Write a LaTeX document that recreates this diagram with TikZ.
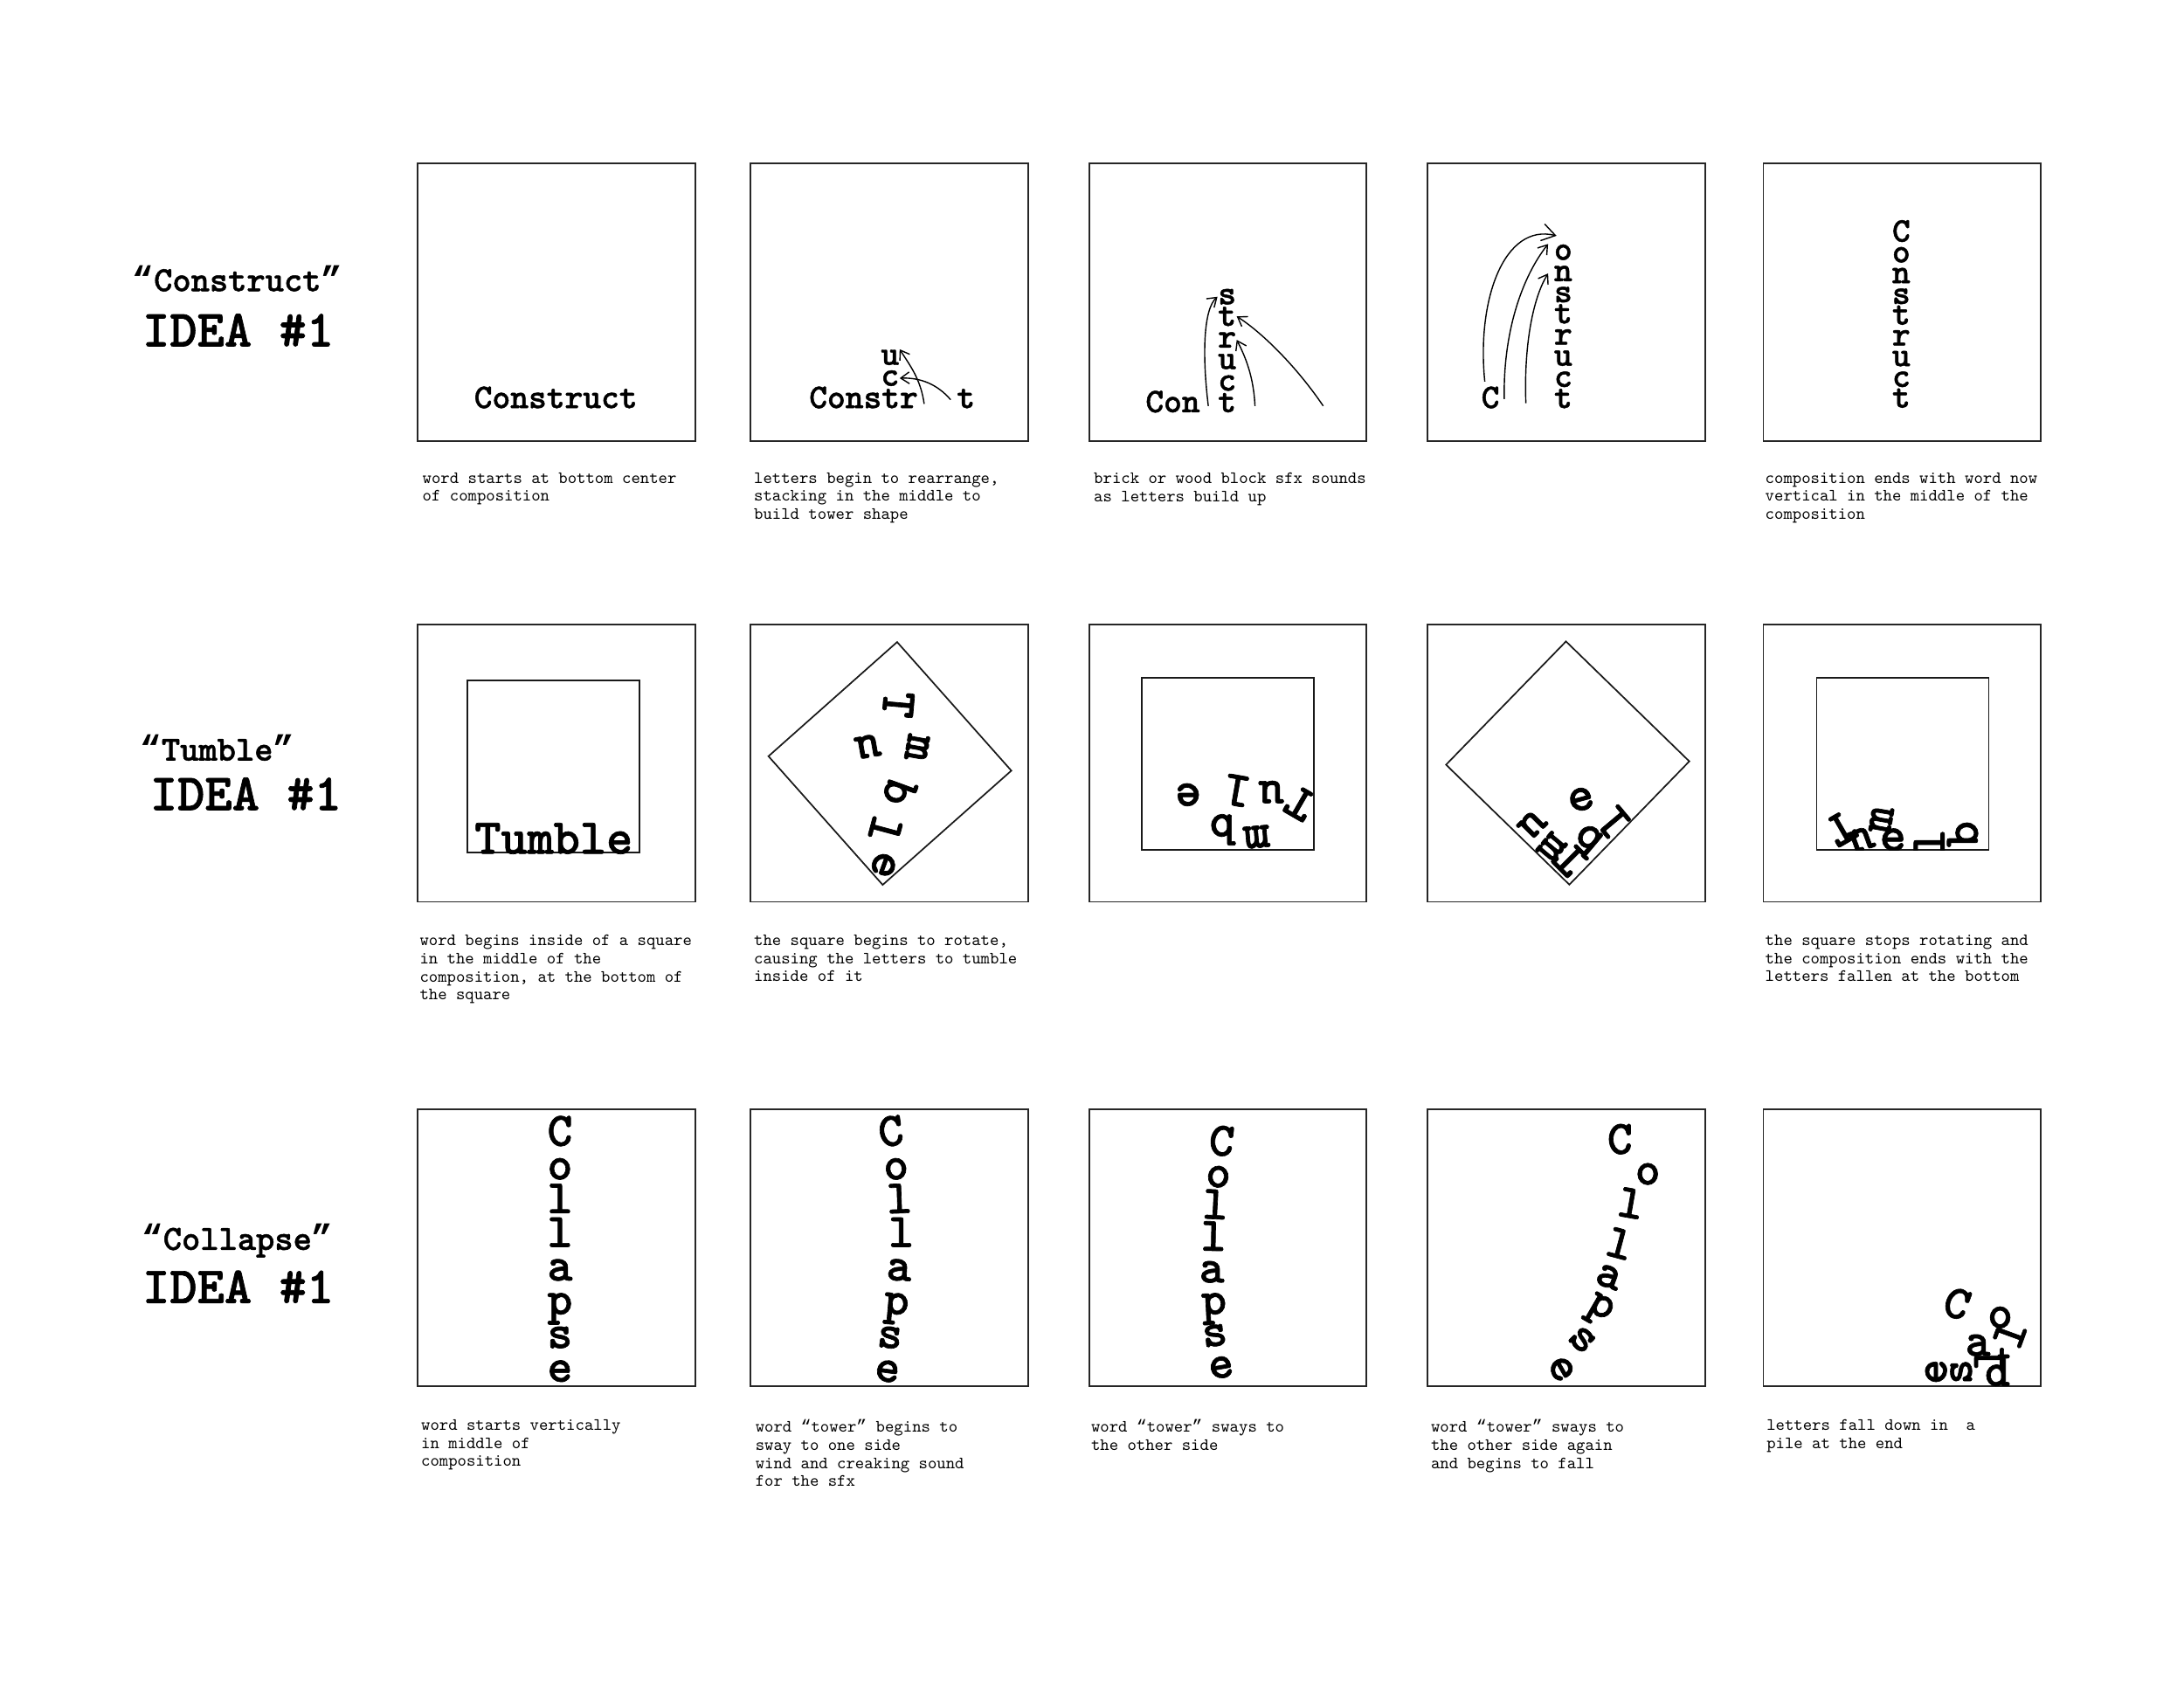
\documentclass[tikz,border=0pt]{standalone}
\usepackage{fontspec}
\setmonofont{lmmono10-regular.otf}[BoldFont=lmmonolt10-bold.otf, BoldFeatures={FakeBold=1.2}]
\newfontfamily\qfont{Liberation Mono}
\newcommand{\openq}{{\qfont “}}
\newcommand{\closeq}{{\qfont ”}}
\usetikzlibrary{arrows.meta}
\tikzset{
  panel/.style={draw=black!85, line width=0.6pt, minimum size=3.554cm, inner sep=0pt},
  inbox/.style={draw=black!90, line width=0.55pt, minimum size=2.205cm, inner sep=0pt},
  arr/.style={-{Straight Barb[length=1.1mm,width=1.5mm]}, line width=0.45pt},
  bigarr/.style={-{Straight Barb[length=1.7mm,width=2.2mm]}, line width=0.45pt},
  title/.style={font=\ttfamily\bfseries\fontsize{12.9}{14}\selectfont, inner sep=0pt},
  idea/.style={font=\ttfamily\bfseries\fontsize{19}{20}\selectfont, inner sep=0pt},
  cl/.style={font=\ttfamily\bfseries\fontsize{12.6}{13}\selectfont, inner sep=0pt},
  tl/.style={font=\ttfamily\bfseries\fontsize{18.3}{19}\selectfont, inner sep=0pt},
  kl/.style={font=\ttfamily\bfseries\fontsize{17.5}{18}\selectfont, inner sep=0pt},
  note/.style={font=\ttfamily\fontsize{6.3}{6.6}\selectfont, align=left, anchor=north west, inner sep=0pt}
}

\begin{document}
\begin{tikzpicture}[x=0.017857cm, y=-0.017857cm]
  \fill[white] (0,0) rectangle (1568,1214);
  \useasboundingbox (0,0) rectangle (1568,1214);

  % panels
  \foreach \r/\y in {1/217,2/548,3/896}{
    \foreach \c/\x in {1/399.5,2/638.5,3/881.5,4/1124.5,5/1365.5}{
      \node[panel] (p\r\c) at (\x,\y) {};
    }
  }

  % row titles
  \node[title] (t1) at (170.5,200) {\openq Construct\closeq};
  \node[idea] (i1) at (171,237) {IDEA \#1};
  \node[title] (t2) at (156,537) {\openq Tumble\closeq};
  \node[idea] (i2) at (176.5,570) {IDEA \#1};
  \node[title] (t3) at (170.5,891) {\openq Collapse\closeq};
  \node[idea] (i3) at (171,924) {IDEA \#1};

  % Construct
  \node[cl, anchor=base] (w1) at (399,293) {Construct};

  \node[cl, anchor=base] (w2) at (620,293) {Constr};
  \node[cl, anchor=base] (w2t) at (693.5,293) {t};
  \node[cl, anchor=base] (w2c) at (639,277) {c};
  \node[cl, anchor=base] (w2u) at (639,262) {u};
  \coordinate (a2) at (663.5,290);
  \coordinate (b2) at (682.5,287);
  \draw[arr] (a2) .. controls (661,272) and (653,262) .. (w2u.north east);
  \draw[arr] (b2) .. controls (673,276) and (661,271) .. (w2c.east);

  \node[cl, anchor=base] (w3) at (842,296) {Con};
  \foreach \ch [count=\i] in {t,c,u,r,t,s}
    \node[cl, anchor=base] (s3\i) at (881,{296-15.5*(\i-1)}) {\ch};
  \coordinate (a3) at (867.5,291.5);
  \coordinate (b3) at (901,291.5);
  \coordinate (c3) at (950,291.5);
  \draw[arr] (a3) .. controls (863,255) and (864,222) .. (s36.west);
  \draw[arr] (b3) .. controls (900,270) and (894,256) .. (s34.east);
  \draw[arr] (c3) .. controls (930,262) and (905,238) .. (s35.east);

  \node[cl, anchor=base] (w4) at (1070,293) {C};
  \foreach \ch [count=\i] in {t,c,u,r,t,s,n,o}
    \node[cl, anchor=base] (s4\i) at (1122.3,{293-15.2*(\i-1)}) {\ch};
  \coordinate (a4) at (1066,274);
  \coordinate (b4) at (1080,286.5);
  \coordinate (c4) at (1095.5,289.5);
  \coordinate (e4) at (1117.5,169.3);
  \draw[bigarr] (a4) .. controls (1060,215) and (1080,160) .. (e4);
  \draw[arr] (b4) .. controls (1079,240) and (1092,200) .. ([xshift=-2pt]s48.north west);
  \draw[arr] (c4) .. controls (1094,250) and (1100,215) .. ([xshift=-2pt]s47.west);

  \foreach \ch [count=\i] in {C,o,n,s,t,r,u,c,t}
    \node[cl, anchor=base] (s5\i) at (1365,{173.5+14.9*(\i-1)}) {\ch};

  % Tumble
  \node[inbox] (q1) at (397.5,550.5) {};
  \node[tl, anchor=base] (tw1) at (397.5,613) {Tumble};

  \node[inbox, rotate=41.6] (q2) at (638.9,548.2) {};
  \foreach \ch/\x/\y/\a in {T/645/506/-95, u/623/536/-170, m/658.5/537/-100,
      b/646/569/-110, l/635.6/596/-105, e/634.5/621/-110}
    \node[tl, rotate=\a] (r2\ch) at (\x,\y) {\ch};

  \node[inbox] (q3) at (881.4,548.3) {};
  \begin{scope}
    \clip (q3.south west) rectangle (q3.north east);
    \foreach \ch/\x/\y/\a in {e/853/570.7/180, l/887.5/567.6/170, u/912.6/568.7/180,
        T/933.5/577/150, b/878/595.8/180, m/902/601/185}
      \node[tl, rotate=\a] (r3\ch) at (\x,\y) {\ch};
  \end{scope}

  \node[inbox, rotate=45.8] (q4) at (1125.5,547.9) {};
  \begin{scope}
    \clip (q4.north west) -- (q4.north east) -- (q4.south east) -- (q4.south west) -- cycle;
    \foreach \ch/\x/\y/\a in {e/1135/574/15, l/1158/590/130, b/1139.5/604/140,
        T/1127/617/135, u/1100/592/-135, m/1114/608.5/-130}
      \node[tl, rotate=\a] (r4\ch) at (\x,\y) {\ch};
  \end{scope}

  \node[inbox] (q5) at (1366,548.3) {};
  \begin{scope}
    \clip (q5.south west) rectangle (q5.north east);
    \foreach \ch/\x/\y/\a in {T/1322/595/-150, u/1336/603/-160, m/1350.6/588.6/80,
        e/1359/603/0, l/1385/605/90, b/1409/599/90}
      \node[tl, rotate=\a] (r5\ch) at (\x,\y) {\ch};
  \end{scope}

  % Collapse
  \foreach \ch [count=\i] in {C,o,l,l,a,p,s,e}
    \node[kl, anchor=base] (k1\i) at (402,{822.7+24.2*(\i-1)}) {\ch};
  \foreach \ch/\x/\a [count=\i] in {C/641/8, o/644/5, l/646/2, l/647/0,
      a/645/-3, p/643/-5, s/638/-7, e/636/-8}
    \node[kl, anchor=base, rotate=\a] (k2\i) at (\x,{822.7+24.2*(\i-1)}) {\ch};
  \foreach \ch/\x/\a [count=\i] in {C/876/-6, o/874/-5, l/872/-3, l/871/-1,
      a/870/0, p/872/3, s/873/6, e/878/10}
    \node[kl, anchor=base, rotate=\a] (k3\i) at (\x,{829.7+22.8*(\i-1)}) {\ch};
  \foreach \ch/\x/\y/\a [count=\i] in {C/1163/818/0, o/1183/843/0, l/1171/864/-10,
      l/1163/893/-15, a/1155/917/-20, p/1148/941/-30, s/1136/962/-45, e/1121/983/-60}
    \node[kl, rotate=\a] (k4\i) at (\x,\y) {\ch};
  \foreach \ch/\x/\y/\a [count=\i] in {C/1405/936/-20, o/1436/946/0, l/1443/958/70,
      a/1420/966/0, l/1428/975/90, s/1408/985/90, e/1390/985/90, p/1434/984/180}
    \node[kl, rotate=\a] (k5\i) at (\x,\y) {\ch};

  % notes
  \node[note] (n11) at (303,339) {word starts at bottom center\\of composition};
  \node[note] (n12) at (541,339) {letters begin to rearrange,\\stacking in the middle to\\build tower shape};
  \node[note] (n13) at (785,339) {brick or wood block sfx sounds\\as letters build up};
  \node[note] (n15) at (1267,339) {composition ends with word now\\vertical in the middle of the\\composition};

  \node[note] (n21) at (301,671) {word begins inside of a square\\in the middle of the\\composition, at the bottom of\\the square};
  \node[note] (n22) at (541,671) {the square begins to rotate,\\causing the letters to tumble\\inside of it};
  \node[note] (n25) at (1267,671) {the square stops rotating and\\the composition ends with the\\letters fallen at the bottom};

  \node[note] (n31) at (302,1019) {word starts vertically\\in middle of\\composition};
  \node[note] (n32) at (542,1019) {word \openq tower\closeq{} begins to\\sway to one side\\wind and creaking sound\\for the sfx};
  \node[note] (n33) at (783,1019) {word \openq tower\closeq{} sways to\\the other side};
  \node[note] (n34) at (1027,1019) {word \openq tower\closeq{} sways to\\the other side again\\and begins to fall};
  \node[note] (n35) at (1268,1019) {letters fall down in\ \ a\\pile at the end};
\end{tikzpicture}
\end{document}
